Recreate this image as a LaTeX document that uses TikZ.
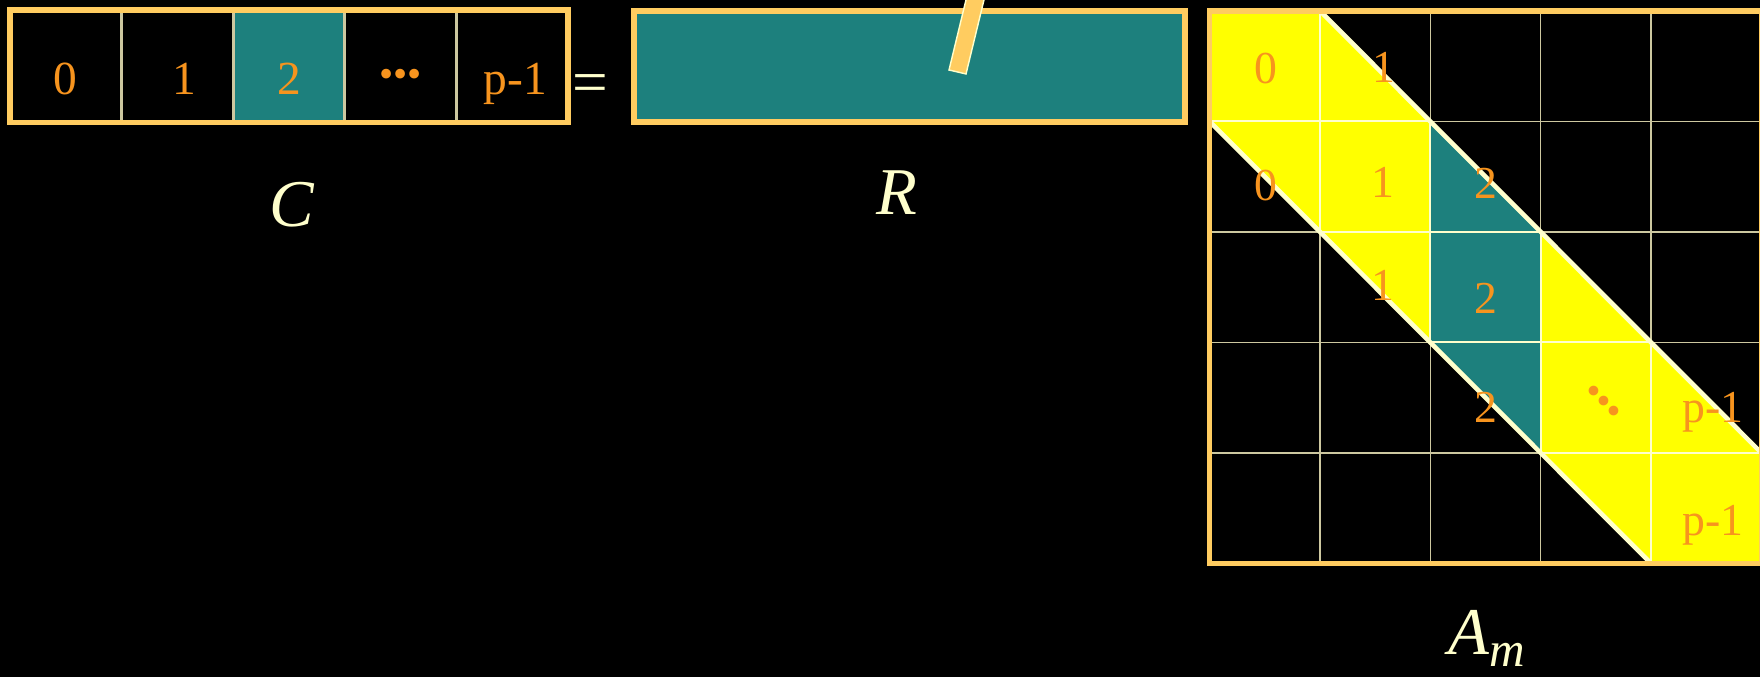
\documentclass[tikz,border=0pt]{standalone}
\usepackage{fontspec}
\setmainfont{Liberation Serif}
\usetikzlibrary{positioning,calc}
\definecolor{frameorange}{RGB}{255,204,96}
\definecolor{blockteal}{RGB}{29,128,125}
\definecolor{bandyellow}{RGB}{255,255,0}
\definecolor{digitorange}{RGB}{247,148,30}
\definecolor{palecream}{RGB}{255,255,204}
\definecolor{gridkhaki}{RGB}{205,200,160}

\begin{document}
\begin{tikzpicture}[x=0.01cm, y=-0.01cm,
    frame/.style={draw=frameorange, line width=1.6pt},
    cellbox/.style={rectangle, draw=gridkhaki, line width=0.4pt, minimum width=1.102cm, minimum height=1.109cm, inner sep=0pt, text height=0.56cm, text depth=0pt, font=\fontsize{13.5pt}{16pt}\selectfont, text=digitorange},
    tealcell/.style={cellbox, fill=blockteal},
    entry/.style={inner sep=0pt, text depth=0pt, font=\fontsize{13pt}{15pt}\selectfont, text=digitorange},
    vecname/.style={inner sep=0pt, text=palecream, font=\fontsize{19pt}{22pt}\selectfont\itshape},
    eqsign/.style={inner sep=0pt, text=palecream, font=\fontsize{18pt}{20pt}\selectfont},
    gridline/.style={draw=gridkhaki, line width=0.4pt},
    bandline/.style={draw=palecream, line width=0.6pt},
    diagline/.style={draw=palecream, line width=1.3pt}
]

% background and page size
\fill[black] (0,0) rectangle (1760,677);
\useasboundingbox (0,0) rectangle (1760,677);

% C vector
\node[cellbox] (c0) at (65.6,66.25) {0};
\node[cellbox, right=0pt of c0] (c1) {\hspace{0.14cm}1};
\node[tealcell, right=0pt of c1] (c2) {2};
\node[cellbox, right=0pt of c2] (c3) {\raisebox{0.07cm}{\fontsize{11.5pt}{13pt}\selectfont •••}};
\node[cellbox, right=0pt of c3] (c4) {\hspace{0.06cm}p-1};
\draw[frame] (c0.north west) rectangle (c4.south east);

\node[eqsign] (eq) at (590.5,89) {=};

% R vector with the slanted bar
\node[frame, fill=blockteal, minimum width=5.51cm, minimum height=1.109cm, inner sep=0pt] (rbox) at (909.5,66.25) {};
\filldraw[fill=frameorange, draw=palecream, line width=0.4pt] (949,70) -- (966,74) -- (986.4,-10) -- (968.4,-10) -- cycle;

% names
\node[vecname] (clabel) at (291.5,205) {C};
\node[vecname] (rlabel) at (897,193) {R};
\node[vecname] (amlabel) at (1487,638) {A\raisebox{-0.12cm}{\fontsize{14pt}{16pt}\selectfont m}};

% A_m band matrix
\begin{scope}[shift={(1209.5,10.8)}, x=1.103cm, y=-1.1045cm]
  \fill[bandyellow] (0,0) -- (1,0) -- (5,4) -- (5,5) -- (4,5) -- (0,1) -- cycle;
  \fill[blockteal] (2,1) -- (3,2) -- (3,4) -- (2,3) -- cycle;
  \foreach \k in {1,...,4} {
    \draw[gridline] (\k,0) -- (\k,5);
    \draw[gridline] (0,\k) -- (5,\k);
  }
  \foreach \k in {0,...,4}
    \draw[bandline] (\k,\k) rectangle ++(1,1);
  \draw[diagline] (1,0) -- (5,4);
  \draw[diagline] (0,1) -- (4,5);
  \draw[frame] (0,0) rectangle (5,5);
\end{scope}

% matrix entries
\node[entry] (a00) at (1266,68) {0};
\node[entry] (a01) at (1384,67) {1};
\node[entry] (a10) at (1266,185) {0};
\node[entry] (a11) at (1383,182) {1};
\node[entry] (a12) at (1486,183) {2};
\node[entry] (a21) at (1383,285) {1};
\node[entry] (a22) at (1486,298) {2};
\node[entry] (a32) at (1486,407) {2};
\node[entry, rotate=-45] (a33) at (1601,404) {\fontsize{11.5pt}{13pt}\selectfont •••};
\node[entry] (a34) at (1713,407) {p-1};
\node[entry] (a44) at (1713,520) {p-1};

\end{tikzpicture}
\end{document}
